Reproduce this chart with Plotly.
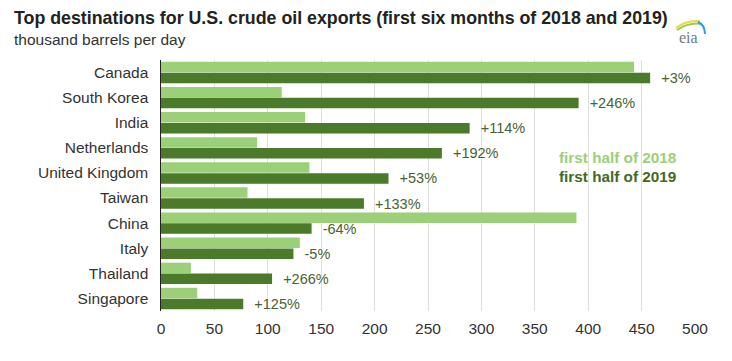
import plotly.graph_objects as go

countries = ["Canada", "South Korea", "India", "Netherlands", "United Kingdom",
             "Taiwan", "China", "Italy", "Thailand", "Singapore"]
h1_2018 = [443, 113, 135, 90, 139, 81, 389, 130, 28, 34]
h1_2019 = [458, 391, 289, 263, 213, 190, 141, 124, 104, 77]
changes = ["+3%", "+246%", "+114%", "+192%", "+53%", "+133%", "-64%", "-5%", "+266%", "+125%"]
x_ticks = [0, 50, 100, 150, 200, 250, 300, 350, 400, 450, 500]

LIGHT = "#9bd078"
DARK = "#4a7a2a"
FONT = "Liberation Sans, Arial, sans-serif"

W, H = 732, 361
ML, MR, MT, MB = 161, 37, 60, 50

fig = go.Figure()
fig.add_trace(go.Bar(y=countries, x=h1_2018, orientation="h", name="first half of 2018",
                     marker=dict(color=LIGHT, line=dict(width=0)), hoverinfo="x+y"))
fig.add_trace(go.Bar(y=countries, x=h1_2019, orientation="h", name="first half of 2019",
                     marker=dict(color=DARK, line=dict(width=0)),
                     text=["\u00a0\u00a0" + c for c in changes], textposition="outside",
                     textfont=dict(family=FONT, size=14.5, color="#4a6232"),
                     constraintext="none", cliponaxis=False, hoverinfo="x+y"))

fig.update_layout(
    width=W, height=H,
    margin=dict(l=ML, r=MR, t=MT, b=MB),
    paper_bgcolor="white", plot_bgcolor="white",
    barmode="group", bargap=0.13, bargroupgap=0.04,
    showlegend=False,
    font=dict(family=FONT, size=15, color="#333333"),
    xaxis=dict(range=[0, 500], tickvals=x_ticks, showgrid=True, gridcolor="#dedede",
               gridwidth=1, zeroline=False, showline=False, ticks="",
               ticklabelstandoff=6,
               tickfont=dict(size=15.5, color="#333333"), fixedrange=True),
    yaxis=dict(autorange="reversed", showgrid=False, showline=True, linecolor="#222222",
               linewidth=1, ticks="", ticklen=0, tickfont=dict(size=15.5, color="#333333"),
               ticksuffix="  ", fixedrange=True),
)

def px(xp, yp):
    return ((xp - ML) / (W - ML - MR), 1 - (yp - MT) / (H - MT - MB))

def note(xp, yp, text, size, color, family=FONT, anchor="left"):
    x, y = px(xp, yp)
    fig.add_annotation(x=x, y=y, xref="paper", yref="paper", text=text, showarrow=False,
                       xanchor=anchor, yanchor="middle",
                       font=dict(family=family, size=size, color=color))

note(12, 18, "<b>Top destinations for U.S. crude oil exports (first six months of 2018 and 2019)</b>", 17.8, "#222222")
note(12, 39, "thousand barrels per day", 15.5, "#333333")
note(557, 157, "<b>first half of 2018</b>", 15.3, LIGHT)
note(557, 176, "<b>first half of 2019</b>", 15.3, "#3f6b25")
note(688, 37, "eia", 16, "#6b7a85", family="Liberation Serif, serif", anchor="center")

# eia logo arcs
arcs = [("#f0d53c", 676, 28, 700, 21, 686, 20), ("#9ccb4a", 677, 30, 702, 24, 689, 22),
        ("#2a9fd8", 698, 22, 705, 34, 705, 25)]
for col, x0, y0, x1, y1, cx, cy in arcs:
    a0 = px(x0, y0); a1 = px(x1, y1); c = px(cx, cy)
    fig.add_shape(type="path", xref="paper", yref="paper",
                  path=f"M {a0[0]},{a0[1]} Q {c[0]},{c[1]} {a1[0]},{a1[1]}",
                  line=dict(color=col, width=2))

fig.write_html("out.html", config={"displayModeBar": False},
               post_script="document.body.style.margin='0px';")
